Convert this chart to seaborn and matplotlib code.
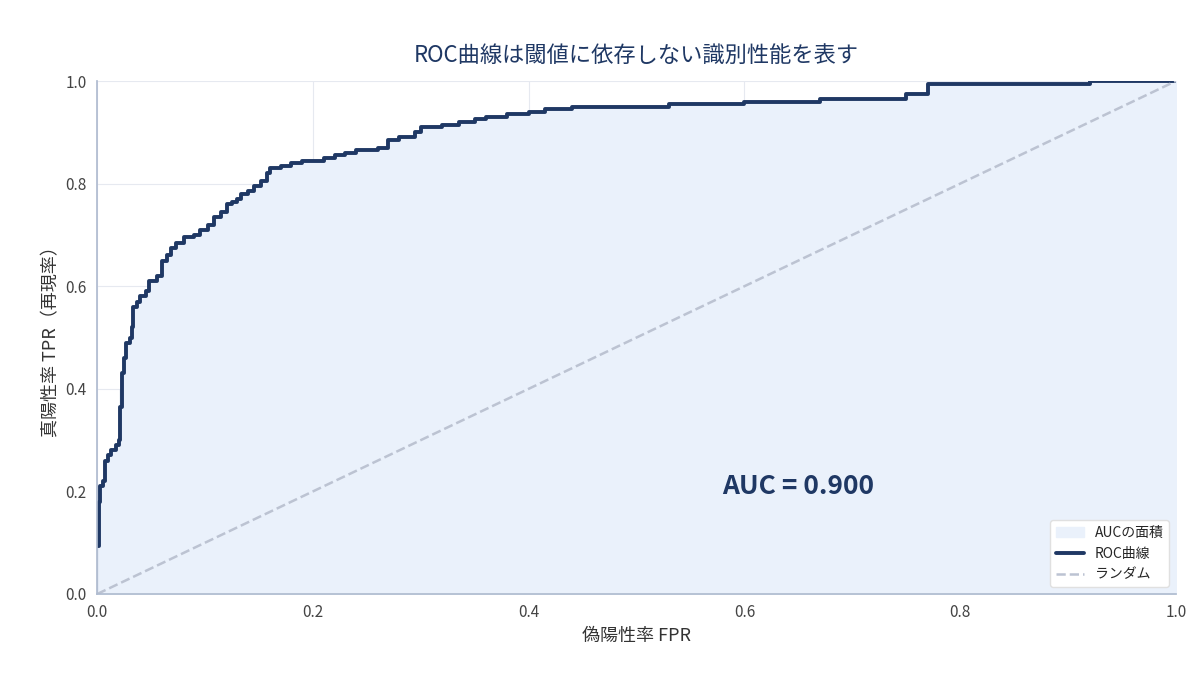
import matplotlib
matplotlib.use("Agg")
import matplotlib.pyplot as plt
import seaborn as sns
import pandas as pd

sns.set_theme(style="whitegrid")
plt.rcParams['font.family'] = ['Noto Sans CJK JP', 'DejaVu Sans']

# ROC曲線の点 (FPR, TPR)
fpr = [0, 0, 0, 0.002, 0.003, 0.005, 0.007, 0.010, 0.013, 0.017, 0.020, 0.021, 0.021,
       0.023, 0.025, 0.027, 0.030, 0.032, 0.033, 0.037, 0.040, 0.045, 0.048, 0.055,
       0.060, 0.065, 0.068, 0.073, 0.080, 0.090, 0.095, 0.103, 0.108, 0.115, 0.120,
       0.125, 0.130, 0.133, 0.140, 0.145, 0.152, 0.157, 0.160, 0.170, 0.180, 0.190,
       0.210, 0.220, 0.230, 0.240, 0.260, 0.270, 0.280, 0.295, 0.300, 0.320, 0.335,
       0.350, 0.360, 0.380, 0.400, 0.415, 0.440, 0.530, 0.600, 0.670, 0.750, 0.770,
       0.920, 1.0]
tpr = [0, 0.11, 0.17, 0.18, 0.21, 0.22, 0.26, 0.27, 0.28, 0.29, 0.30, 0.33, 0.40,
       0.43, 0.46, 0.49, 0.50, 0.52, 0.56, 0.57, 0.58, 0.59, 0.61, 0.62,
       0.65, 0.66, 0.675, 0.685, 0.695, 0.70, 0.71, 0.72, 0.735, 0.745, 0.76,
       0.765, 0.77, 0.78, 0.785, 0.795, 0.805, 0.82, 0.83, 0.835, 0.84, 0.845,
       0.85, 0.855, 0.86, 0.865, 0.87, 0.885, 0.89, 0.90, 0.91, 0.915, 0.92,
       0.925, 0.93, 0.935, 0.94, 0.945, 0.95, 0.955, 0.96, 0.965, 0.975, 0.994,
       1.0, 1.0]
auc_value = 0.900

navy = "#1f3864"
df = pd.DataFrame({"FPR": fpr, "TPR": tpr})

fig, ax = plt.subplots(figsize=(12, 6.75), dpi=100)
ax.fill_between(df["FPR"], df["TPR"], step="post", color="#eaf1fb", label="AUCの面積")
sns.lineplot(data=df, x="FPR", y="TPR", ax=ax, color=navy, lw=2.8,
             drawstyle="steps-post", label="ROC曲線", sort=False)
ax.plot([0, 1], [0, 1], ls="--", color="#bcc3d2", lw=1.8, label="ランダム")

ax.text(0.65, 0.21, f"AUC = {auc_value:.3f}", fontsize=19, fontweight="bold",
        color=navy, ha="center", va="center")

ax.set_xlim(0, 1)
ax.set_ylim(0, 1)
ax.set_xticks([0, 0.2, 0.4, 0.6, 0.8, 1.0])
ax.set_yticks([0, 0.2, 0.4, 0.6, 0.8, 1.0])
ax.set_xticklabels(["0.0", "0.2", "0.4", "0.6", "0.8", "1.0"])
ax.set_yticklabels(["0.0", "0.2", "0.4", "0.6", "0.8", "1.0"])
ax.tick_params(colors="#444444", labelsize=11, length=4, color="#b0bcd0")
ax.set_xlabel("偽陽性率 FPR", fontsize=13, color="#333333")
ax.set_ylabel("真陽性率 TPR（再現率）", fontsize=13, color="#333333")
ax.set_title("ROC曲線は閾値に依存しない識別性能を表す", fontsize=16, color=navy, pad=14)
ax.grid(color="#e6e9f0", lw=0.8)
for s in ax.spines.values():
    s.set_visible(False)
ax.spines["left"].set_visible(True)
ax.spines["bottom"].set_visible(True)
ax.spines["left"].set_color("#b0bcd0")
ax.spines["bottom"].set_color("#b0bcd0")

ax.legend(loc="lower right", fontsize=10, frameon=True, framealpha=1, edgecolor="#e0e0e0")

fig.subplots_adjust(left=0.081, right=0.98, top=0.88, bottom=0.12)
fig.savefig("out.png", dpi=100)
